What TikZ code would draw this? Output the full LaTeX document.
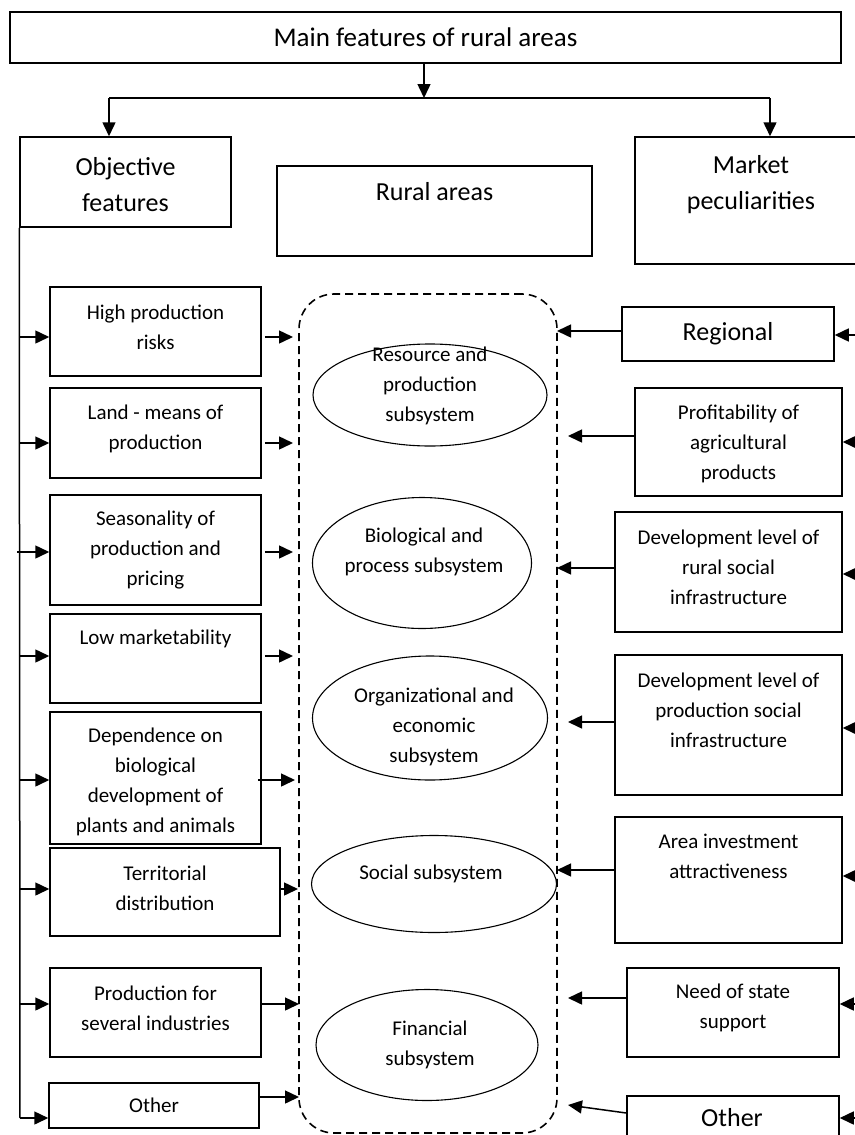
\documentclass[tikz,border=0pt]{standalone}
\usepackage{fontspec}
\setmainfont{Carlito}
\usetikzlibrary{arrows.meta,shapes.geometric}
\begin{document}
\begin{tikzpicture}[x=1pt,y=-1pt,
  box/.style={draw,line width=1.5pt,inner sep=0pt,rectangle},
  big/.style={font=\fontsize{26}{36}\selectfont,align=center,inner sep=0pt},
  sm/.style={font=\fontsize{21}{30}\selectfont,align=center,inner sep=0pt},
  ell/.style={draw,ellipse,line width=1.1pt,inner sep=0pt},
  arr/.style={line width=1.5pt,-{Triangle[length=14pt,width=13pt]}},
  ln/.style={line width=1.5pt},
  sysbox/.style={draw,dash pattern=on 8pt off 5pt,line width=1.6pt,rounded corners=35pt,inner sep=0pt},
]
\useasboundingbox (0,0) rectangle (854,1135);

% top
\node[box,font=\fontsize{27}{36}\selectfont,minimum width=831,minimum height=51] (main) at (425.5,37.5) {Main features of rural areas};
\node[box,minimum width=211,minimum height=90] (obj) at (125.5,182) {};
\node[big] (objt) at (125.5,185) {Objective\\features};
\node[box,minimum width=315,minimum height=90] (rur) at (434.5,211) {};
\node[big] (rurt) at (434.5,192) {Rural areas};
\node[box,minimum width=232,minimum height=127] (mkt) at (751,200.5) {};
\node[big] (mktt) at (751,184.5) {Market\\peculiarities};

\coordinate (hub) at (424,98);
\coordinate (hl) at (109,98);
\coordinate (hr) at (770,98);
\draw[arr] (main.south -| hub) -- (hub);
\draw[ln] (hl) -- (hr);
\draw[arr] (hl) -- (hl |- obj.north);
\draw[arr] (hr) -- (hr |- mkt.north);

% left boxes
\node[box,minimum width=211,minimum height=89] (b1) at (155.5,331.5) {};
\node[sm] (b1t) at (155.5,327) {High production\\risks};
\node[box,minimum width=211,minimum height=90] (b2) at (155.5,433) {};
\node[sm] (b2t) at (155.5,429) {Land - means of\\production};
\node[box,minimum width=211,minimum height=110] (b3) at (155.5,550) {};
\node[sm] (b3t) at (155.5,550) {Seasonality of\\production and\\pricing};
\node[box,minimum width=211,minimum height=89] (b4) at (155.5,658.5) {};
\node[sm] (b4t) at (155.5,639) {Low marketability};
\node[box,minimum width=211,minimum height=132] (b5) at (155.5,778) {};
\node[sm] (b5t) at (155.5,782) {Dependence on\\biological\\development of\\plants and animals};
\node[box,minimum width=230,minimum height=88] (b6) at (165,892) {};
\node[sm] (b6t) at (165,888) {Territorial\\distribution};
\node[box,minimum width=211,minimum height=89] (b7) at (155.5,1012.5) {};
\node[sm] (b7t) at (155.5,1008) {Production for\\several industries};
\node[box,sm,minimum width=210,minimum height=45] (b8) at (154,1105.5) {Other};

% central system
\node[sysbox,minimum width=258,minimum height=839] (sys) at (428,713.5) {};
\node[ell,minimum width=234,minimum height=102] (e1) at (430,395) {};
\node[sm] (e1t) at (430,386) {Resource and\\production\\subsystem};
\node[ell,minimum width=219,minimum height=131] (e2) at (422,563) {};
\node[sm] (e2t) at (424,552) {Biological and\\process subsystem};
\node[ell,minimum width=235,minimum height=124] (e3) at (430,718) {};
\node[sm] (e3t) at (434,727) {Organizational and\\economic\\subsystem};
\node[ell,minimum width=245,minimum height=97] (e4) at (434,884) {};
\node[sm] (e4t) at (431,874) {Social subsystem};
\node[ell,minimum width=222,minimum height=111] (e5) at (427,1045) {};
\node[sm] (e5t) at (430,1045) {Financial\\subsystem};

% right boxes
\node[box,big,minimum width=212,minimum height=54] (r1) at (728,334) {Regional};
\node[box,minimum width=207,minimum height=108] (r2) at (738.5,442) {};
\node[sm] (r2t) at (738.5,444) {Profitability of\\agricultural\\products};
\node[box,minimum width=227,minimum height=120] (r3) at (728.5,572) {};
\node[sm] (r3t) at (728.5,567) {Development level of\\rural social\\infrastructure};
\node[box,minimum width=227,minimum height=140] (r4) at (728.5,725) {};
\node[sm] (r4t) at (728.5,710) {Development level of\\production social\\infrastructure};
\node[box,minimum width=227,minimum height=126] (r5) at (728.5,880) {};
\node[sm] (r5t) at (728.5,856) {Area investment\\attractiveness};
\node[box,minimum width=212,minimum height=89] (r6) at (733,1012.5) {};
\node[sm] (r6t) at (733,1008) {Need of state\\support};
\node[box,minimum width=212,minimum height=54] (r7) at (733,1123) {};
\node[big] (r7t) at (732,1118) {Other};

% left trunk
\coordinate (tb) at (20,1118);
\draw[ln] (obj.south west) -- (tb);
\draw[arr] (tb) -- (tb -| b8.west);

\coordinate (li1) at (20,337);
\coordinate (li2) at (20,443);
\coordinate (li3) at (17,552);
\coordinate (li4) at (20,656);
\coordinate (li5) at (20,780);
\coordinate (li6) at (20,889);
\coordinate (li7) at (20,1004);
\draw[arr] (li1) -- (li1 -| b1.west);
\draw[arr] (li2) -- (li2 -| b2.west);
\draw[arr] (li3) -- (li3 -| b3.west);
\draw[arr] (li4) -- (li4 -| b4.west);
\draw[arr] (li5) -- (li5 -| b5.west);
\draw[arr] (li6) -- (li6 -| b6.west);
\draw[arr] (li7) -- (li7 -| b7.west);

% left outputs to the system
\coordinate (lo1) at (299,337);
\coordinate (lo2) at (299,443);
\coordinate (lo3) at (299,552);
\coordinate (lo4) at (299,656);
\coordinate (lo5) at (299,780);
\coordinate (lo6) at (299,889);
\coordinate (lo7) at (299,1004);
\coordinate (lo8) at (299,1097);
\draw[arr,shorten <=3pt,shorten >=6pt] (b1.east |- lo1) -- (lo1);
\draw[arr,shorten <=3pt,shorten >=6pt] (b2.east |- lo2) -- (lo2);
\draw[arr,shorten <=3pt,shorten >=6pt] (b3.east |- lo3) -- (lo3);
\draw[arr,shorten <=3pt,shorten >=6pt] (b4.east |- lo4) -- (lo4);
\draw[arr,shorten <=-4pt,shorten >=4pt] (b5.east |- lo5) -- (lo5);
\draw[arr,shorten >=1pt] (b6.east |- lo6) -- (lo6);
\draw[arr] (b7.east |- lo7) -- (lo7);
\draw[arr] (b8.east |- lo8) -- (lo8);

% right inputs from outside
\coordinate (rin1) at (860,335);
\coordinate (rin2) at (860,442);
\coordinate (rin3) at (860,574);
\coordinate (rin4) at (860,728);
\coordinate (rin5) at (860,876);
\coordinate (rin6) at (860,1004);
\coordinate (rin7) at (860,1118);
\draw[arr] (rin1) -- (rin1 -| r1.east);
\draw[arr] (rin2) -- (rin2 -| r2.east);
\draw[arr] (rin3) -- (rin3 -| r3.east);
\draw[arr] (rin4) -- (rin4 -| r4.east);
\draw[arr] (rin5) -- (rin5 -| r5.east);
\draw[arr] (rin6) -- (rin6 -| r6.east);
\draw[arr] (rin7) -- (rin7 -| r7.east);

% right outputs to the system
\coordinate (ro1) at (557,331);
\coordinate (ro2) at (557,436);
\coordinate (ro3) at (557,568);
\coordinate (ro4) at (557,722);
\coordinate (ro5) at (557,870);
\coordinate (ro6) at (557,998);
\coordinate (ro7) at (568,1105);
\draw[arr] (r1.west |- ro1) -- (ro1);
\draw[arr,shorten >=11pt] (r2.west |- ro2) -- (ro2);
\draw[arr] (r3.west |- ro3) -- (ro3);
\draw[arr,shorten >=11pt] (r4.west |- ro4) -- (ro4);
\draw[arr] (r5.west |- ro5) -- (ro5);
\draw[arr,shorten >=11pt] (r6.west |- ro6) -- (ro6);
\draw[arr] ([yshift=10pt]r7.west) -- (ro7);
\end{tikzpicture}
\end{document}
